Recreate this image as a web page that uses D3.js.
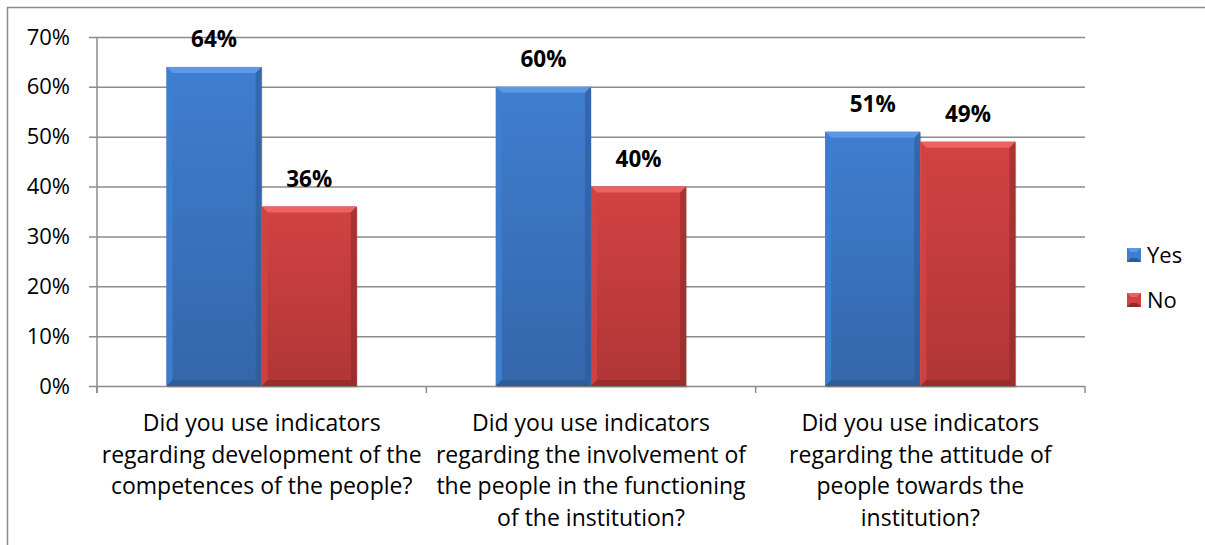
<!DOCTYPE html>
<html>
<head>
<meta charset="utf-8">
<script src="https://cdn.jsdelivr.net/npm/d3@7"></script>
<style>
  html, body { margin: 0; background: #fff; overflow: hidden; }
  svg { display: block; }
  svg text { font-family: "Open Sans", sans-serif; fill: #000; }
</style>
</head>
<body>
<div id="chart"></div>
<script>
// data
const categories = [
  ['Did you use indicators', 'regarding development of the', 'competences of the people?'],
  ['Did you use indicators', 'regarding the involvement of', 'the people in the functioning', 'of the institution?'],
  ['Did you use indicators', 'regarding the attitude of', 'people towards the', 'institution?']
]
const series = ['Yes', 'No']
const yesValues = [64, 60, 51]
const noValues = [36, 40, 49]
const yTicks = [0, 10, 20, 30, 40, 50, 60, 70]

const width = 1205
const height = 545
const margin = { top: 37, right: 120, bottom: 159, left: 97 }
const innerWidth = width - margin.left - margin.right
const innerHeight = height - margin.top - margin.bottom

const colors = {
  Yes: { light: '#5b98e6', mid: '#3f7ecf', dark: '#3466aa', edge: '#2d5a96' },
  No: { light: '#ec6161', mid: '#d24242', dark: '#b03636', edge: '#8f2a2a' }
}

const svg = d3.select('#chart').append('svg')
  .attr('width', width).attr('height', height)

// buitenste rand (alleen boven en links zichtbaar)
svg.append('path')
  .attr('d', `M7.5,${height} V7.5 H${width}`)
  .attr('fill', 'none').attr('stroke', '#8c8c8c').attr('stroke-width', 1.5)

const defs = svg.append('defs')
series.forEach(s => {
  const gr = defs.append('linearGradient').attr('id', 'grad' + s)
    .attr('x1', 0).attr('y1', 0).attr('x2', 0).attr('y2', 1)
  gr.append('stop').attr('offset', '0%').attr('stop-color', colors[s].mid)
  gr.append('stop').attr('offset', '100%').attr('stop-color', colors[s].dark)
})

const g = svg.append('g').attr('transform', `translate(${margin.left},${margin.top})`)

const x = d3.scaleBand().domain(d3.range(categories.length)).range([0, innerWidth])
const xInner = d3.scaleBand().domain(series).range([0, x.bandwidth()]).paddingOuter(0.73)
const y = d3.scaleLinear().domain([0, 70]).range([innerHeight, 0])

// gridlijnen + y-as
const yAxis = d3.axisLeft(y).tickValues(yTicks).tickFormat(d => d + '%')
  .tickSize(-innerWidth).tickPadding(27)
const yAxisG = g.append('g').call(yAxis)
yAxisG.select('.domain').remove()
yAxisG.selectAll('.tick line').attr('stroke', '#8c8c8c').attr('stroke-width', 1.5)
  .attr('x1', -8)
yAxisG.selectAll('.tick text').attr('font-size', 22).attr('font-family', '"Open Sans", sans-serif')

// verticale as
g.append('line').attr('x1', 0).attr('x2', 0).attr('y1', 0).attr('y2', innerHeight + 7)
  .attr('stroke', '#8c8c8c').attr('stroke-width', 1.5)

// x ticks op de grenzen
g.selectAll('.xtick').data(d3.range(categories.length + 1)).enter().append('line')
  .attr('x1', d => d * x.step()).attr('x2', d => d * x.step())
  .attr('y1', innerHeight).attr('y2', innerHeight + 7)
  .attr('stroke', '#8c8c8c').attr('stroke-width', 1.5)

const rows = []
categories.forEach((c, i) => {
  rows.push({ i, s: 'Yes', v: yesValues[i] })
  rows.push({ i, s: 'No', v: noValues[i] })
})

const bev = 6
const bars = g.selectAll('.bar').data(rows).enter().append('g')
  .attr('transform', d => `translate(${x(d.i) + xInner(d.s)},0)`)

bars.each(function (d) {
  const b = d3.select(this)
  const w = xInner.bandwidth()
  const top = y(d.v)
  const bot = y(0)
  const c = colors[d.s]
  // schaduw
  b.append('rect').attr('x', 1).attr('y', top + 2).attr('width', w).attr('height', bot - top)
    .attr('fill', '#000').attr('opacity', 0.12)
  b.append('rect').attr('x', 0).attr('y', top).attr('width', w).attr('height', bot - top)
    .attr('fill', `url(#grad${d.s})`)
  // bevel randen
  b.append('polygon')
    .attr('points', `0,${top} ${w},${top} ${w - bev},${top + bev} ${bev},${top + bev}`)
    .attr('fill', c.light)
  b.append('polygon')
    .attr('points', `0,${top} ${bev},${top + bev} ${bev},${bot - bev} 0,${bot}`)
    .attr('fill', c.mid).attr('opacity', 0.9)
  b.append('polygon')
    .attr('points', `${w},${top} ${w - bev},${top + bev} ${w - bev},${bot - bev} ${w},${bot}`)
    .attr('fill', c.edge).attr('opacity', 0.6)
  b.append('polygon')
    .attr('points', `0,${bot} ${bev},${bot - bev} ${w - bev},${bot - bev} ${w},${bot}`)
    .attr('fill', c.edge).attr('opacity', 0.7)
  b.append('text')
    .attr('x', w / 2).attr('y', top - 20)
    .attr('text-anchor', 'middle')
    .attr('font-size', 22.5).attr('font-weight', 'bold')
    .text(d.v + '%')
})

// categorie labels
const labels = g.selectAll('.cat').data(categories).enter().append('text')
  .attr('text-anchor', 'middle')
  .attr('font-size', 23)
  .attr('transform', (d, i) => `translate(${x(i) + x.bandwidth() / 2},${innerHeight + 45})`)
labels.selectAll('tspan').data(d => d).enter().append('tspan')
  .attr('x', 0).attr('dy', (d, i) => i === 0 ? 0 : 31.5)
  .text(d => d)

// legenda
const legend = svg.append('g').attr('transform', 'translate(1127,248)')
const li = legend.selectAll('g').data(series).enter().append('g')
  .attr('transform', (d, i) => `translate(0,${i * 45})`)
li.append('rect').attr('width', 14).attr('height', 14).attr('fill', d => colors[d].mid)
li.append('polygon').attr('points', '0,0 14,0 10,4 4,4').attr('fill', d => colors[d].light)
li.append('polygon').attr('points', '0,14 4,10 10,10 14,14').attr('fill', d => colors[d].edge)
li.append('text').attr('x', 20).attr('y', 15).attr('font-size', 22).text(d => d)
</script>
</body>
</html>
